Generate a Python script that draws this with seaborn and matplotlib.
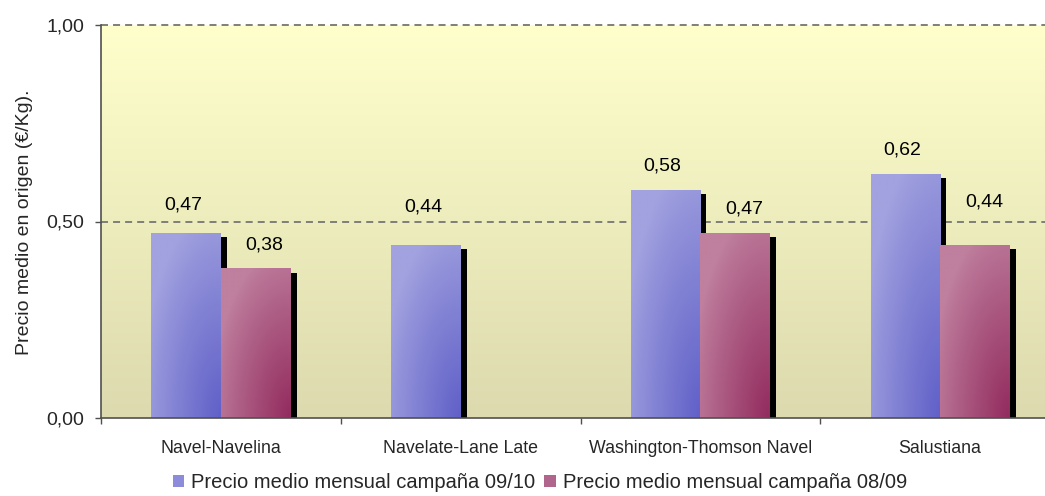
import numpy as np
import pandas as pd
import matplotlib
matplotlib.use("Agg")
import matplotlib.pyplot as plt
import matplotlib.patheffects as pe
from matplotlib.colors import LinearSegmentedColormap
from matplotlib.ticker import FixedLocator, FuncFormatter
from matplotlib.patches import Patch
import seaborn as sns

# ---------------- data ----------------
categories = ["Navel-Navelina", "Navelate-Lane Late", "Washington-Thomson Navel", "Salustiana"]
series_names = ["Precio medio mensual campaña 09/10", "Precio medio mensual campaña 08/09"]
values_0910 = [0.47, 0.44, 0.58, 0.62]
values_0809 = [0.38, np.nan, 0.47, 0.44]
y_ticks = [0.0, 0.5, 1.0]
y_label = "Precio medio en origen (€/Kg)."

# ---------------- style ----------------
sns.set_theme(style="white")
plt.rcParams["font.family"] = ["Liberation Sans", "DejaVu Sans"]

light_cols = ["#A2A2E0", "#BF7F9E"]
dark_cols = ["#6060C8", "#932C5F"]
mid_cols = ["#8C8CDA", "#B0668C"]

df = pd.DataFrame({
    "cat": categories * 2,
    "serie": [series_names[0]] * 4 + [series_names[1]] * 4,
    "val": values_0910 + values_0809,
})

fig = plt.figure(figsize=(10.45, 4.96), dpi=100)
W, H = 1045, 496
ax = fig.add_axes([101 / W, 1 - 418 / H, (1060 - 101) / W, (418 - 25) / H])

# background gradient of the plot area
bg = np.linspace(0, 1, 256).reshape(-1, 1)
bg_cmap = LinearSegmentedColormap.from_list("bg", ["#FFFFCC", "#DCDAAE"])
ax.imshow(bg, aspect="auto", cmap=bg_cmap, extent=(0, 1, 0, 1),
          transform=ax.transAxes, zorder=0, interpolation="bilinear")

sns.barplot(data=df, x="cat", y="val", hue="serie", order=categories,
            hue_order=series_names, palette=mid_cols, saturation=1,
            width=0.58, ax=ax, legend=False, errorbar=None, zorder=2)

# gradient + shadow on each bar
nx, ny = 60, 120
xx, yy = np.meshgrid(np.linspace(0, 1, nx), np.linspace(0, 1, ny))  # yy 0 top -> 1 bottom
dist = np.sqrt((1 - xx) ** 2 + (1 - yy) ** 2)
tgrid = np.clip(1 - dist / 1.15, 0, 1) ** 0.9
tgrid = np.clip(tgrid, 0, 1)

# label placement tweaks (pixels)
label_dx_px = [-3, 9]
label_dy_px = 24
label_extra_dy_px = {(0, 0): 4, (0, 1): 14, (1, 3): 19}

for si, cont in enumerate(ax.containers):
    cmap = LinearSegmentedColormap.from_list(f"b{si}", [light_cols[si], dark_cols[si]])
    for bar in cont:
        h = bar.get_height()
        if not np.isfinite(h) or h <= 0:
            continue
        bar.set_linewidth(0)
        bar.set_edgecolor("none")
        bar.set_path_effects([
            pe.SimplePatchShadow(offset=(4.4, -2.9), shadow_rgbFace="black", alpha=1.0),
            pe.Normal(),
        ])
        x0, w = bar.get_x(), bar.get_width()
        ci = int(round(x0 + w / 2))
        ax.imshow(tgrid, cmap=cmap, vmin=0, vmax=1, aspect="auto",
                  extent=(x0, x0 + w, 0, h), origin="upper",
                  zorder=2.1, interpolation="bilinear")
        dy = label_dy_px + label_extra_dy_px.get((si, ci), 0)
        ax.annotate(f"{h:.2f}".replace(".", ","), xy=(x0 + w / 2, h),
                    xytext=(label_dx_px[si] * 0.72, dy * 0.72),
                    textcoords="offset points", ha="center", va="center",
                    fontsize=14, color="black", zorder=5)

ax.set_xlim(-0.5, len(categories) - 0.5)
ax.set_ylim(0, 1)

# grid
ax.yaxis.set_major_locator(FixedLocator(y_ticks))
ax.yaxis.set_major_formatter(FuncFormatter(lambda v, p: f"{v:.2f}".replace(".", ",")))
ax.grid(False)
for yv in y_ticks[1:]:
    ax.axhline(yv, color="#7F7F78", lw=1.4, linestyle=(0, (3.6, 2.6)), zorder=1, clip_on=False)

# axes / ticks
for s in ["top", "right"]:
    ax.spines[s].set_visible(False)
for s in ["left", "bottom"]:
    ax.spines[s].set_color("#505050")
    ax.spines[s].set_linewidth(1.2)
    ax.spines[s].set_zorder(4)

ax.set_xticks(range(len(categories)))
ax.set_xticklabels(categories, fontsize=12.8)
ax.xaxis.set_minor_locator(FixedLocator(np.arange(-0.5, len(categories), 1.0)))
ax.tick_params(axis="x", which="major", length=0, pad=16)
ax.tick_params(axis="x", which="minor", bottom=True, length=4, width=1, color="#505050", direction="out")
ax.tick_params(axis="y", which="major", left=True, length=4, width=1, color="#505050",
               direction="out", labelsize=14, pad=8)
ax.set_xlabel("")
ax.set_ylabel("")

fig.text(25 / W, 1 - 222 / H, y_label, rotation=90, ha="center", va="center", fontsize=14)

# legend
handles = [Patch(facecolor=mid_cols[i], edgecolor="none") for i in range(2)]
fig.legend(handles, series_names, loc="center", bbox_to_anchor=(540 / W, 1 - 483 / H),
           ncol=2, frameon=False, fontsize=14.5, handlelength=0.55, handleheight=0.55,
           handletextpad=0.35, columnspacing=0.45, borderpad=0, borderaxespad=0)

fig.savefig("out.png", dpi=100)
